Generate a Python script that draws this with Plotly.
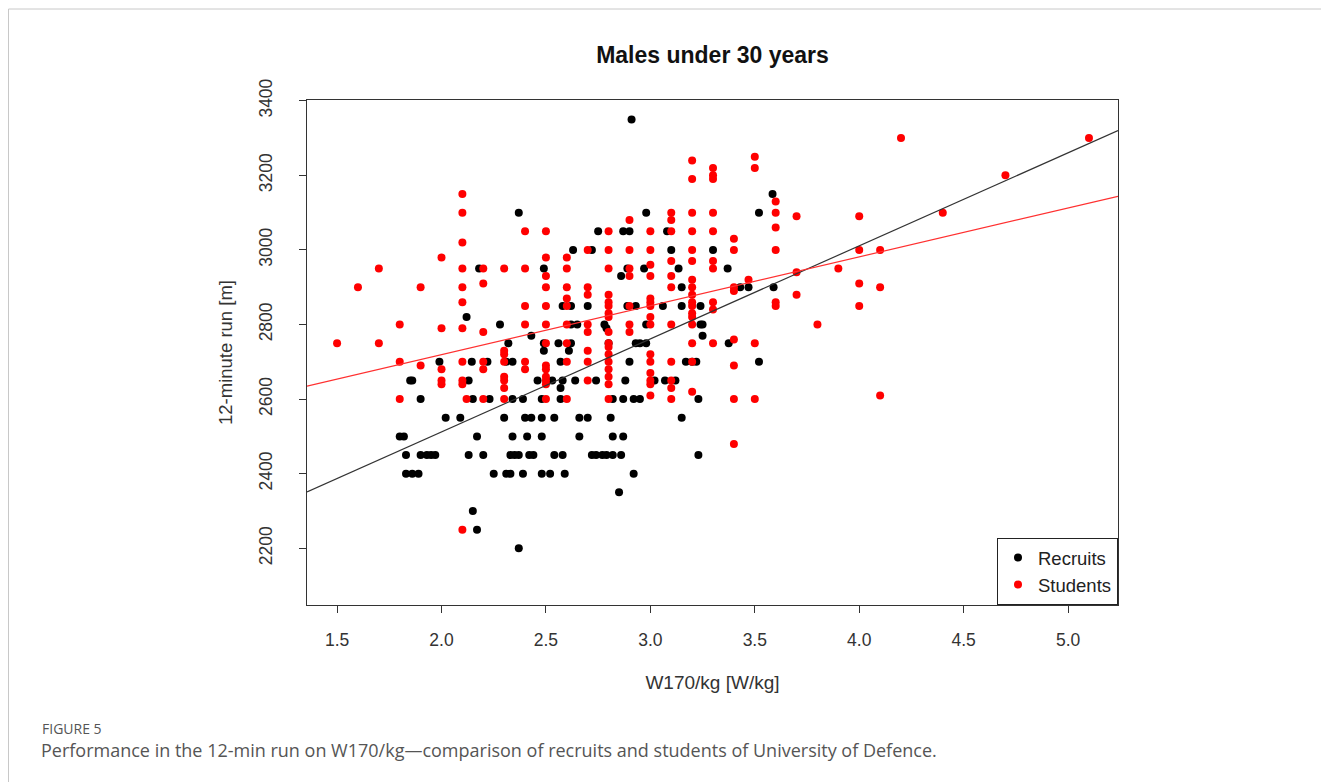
import plotly.graph_objects as go

# ---------------- data ----------------
recruits_x = [2.91, 2.37, 3.585, 3.52, 2.98,
              2.75, 2.87, 2.90, 3.08,
              2.63, 2.72, 3.10, 3.30,
              2.18, 2.49, 2.89, 2.97, 3.135, 3.37,
              2.86,
              3.15, 3.43, 3.47, 3.59,
              2.58, 2.62, 2.70, 2.89, 2.93, 3.06, 3.15, 3.24,
              2.12,
              2.28, 2.62, 2.65, 2.78, 2.98, 3.24, 3.25,
              2.79,
              2.43, 3.25,
              2.32, 2.49, 2.56, 2.62, 2.80, 2.93, 2.95, 2.98, 3.375,
              2.49, 2.61,
              1.99, 2.145, 2.22, 2.31, 2.34, 2.57, 2.90, 3.17, 3.20, 3.22, 3.52,
              1.85, 1.86, 2.13, 2.46, 2.53, 2.58, 2.64, 2.74, 2.88, 3.02, 3.07, 3.12,
              2.57,
              1.90, 2.15, 2.23, 2.34, 2.39, 2.48, 2.57, 2.82, 2.87, 2.92, 2.95, 3.23,
              2.02, 2.09, 2.30, 2.40, 2.43, 2.48, 2.54, 2.66, 2.70, 2.81, 3.15,
              1.80, 1.82, 2.17, 2.34, 2.41, 2.48, 2.66, 2.82, 2.87,
              1.83, 1.90, 1.93, 1.95, 1.97, 2.13, 2.20, 2.33, 2.35, 2.37, 2.42, 2.44,
              2.54, 2.58, 2.72, 2.74, 2.77, 2.79, 2.82, 2.86, 3.23,
              1.83, 1.86, 1.89, 2.25, 2.31, 2.33, 2.39, 2.48, 2.52, 2.59, 2.92,
              2.85, 2.15, 2.17, 2.37]
recruits_y = [3350, 3100, 3150, 3100, 3100,
              3050, 3050, 3050, 3050,
              3000, 3000, 3000, 3000,
              2950, 2950, 2950, 2950, 2950, 2950,
              2930,
              2900, 2900, 2900, 2900,
              2850, 2850, 2850, 2850, 2850, 2850, 2850, 2850,
              2820,
              2800, 2800, 2800, 2800, 2800, 2800, 2800,
              2790,
              2770, 2770,
              2750, 2750, 2750, 2750, 2750, 2750, 2750, 2750, 2750,
              2730, 2730,
              2700, 2700, 2700, 2700, 2700, 2700, 2700, 2700, 2700, 2700, 2700,
              2650, 2650, 2650, 2650, 2650, 2650, 2650, 2650, 2650, 2650, 2650, 2650,
              2630,
              2600, 2600, 2600, 2600, 2600, 2600, 2600, 2600, 2600, 2600, 2600, 2600,
              2550, 2550, 2550, 2550, 2550, 2550, 2550, 2550, 2550, 2550, 2550,
              2500, 2500, 2500, 2500, 2500, 2500, 2500, 2500, 2500,
              2450, 2450, 2450, 2450, 2450, 2450, 2450, 2450, 2450, 2450, 2450, 2450,
              2450, 2450, 2450, 2450, 2450, 2450, 2450, 2450, 2450,
              2400, 2400, 2400, 2400, 2400, 2400, 2400, 2400, 2400, 2400, 2400,
              2350, 2300, 2250, 2200]

students_x = [2.1, 2.1, 2.1, 2.0, 1.7, 2.1, 1.6, 1.9, 2.1, 2.1, 1.8, 2.0, 2.1,
              1.5, 1.7, 1.8, 1.9, 2.1, 2.0, 2.0, 2.0, 2.1, 2.1, 1.8, 2.12, 2.1,
              2.9, 2.4, 2.5, 2.8, 2.5, 2.6, 2.7, 2.8, 2.9, 2.2, 2.3, 2.4, 2.5, 2.6, 2.8, 2.9, 2.9,
              3.2, 3.2, 3.3, 3.3, 3.3, 3.5, 3.5, 3.6, 3.1, 3.1, 3.2, 3.3, 3.6, 3.7,
              3.0, 3.1, 3.2, 3.3, 3.6, 3.4, 3.4, 3.6, 3.0, 3.2, 3.0, 3.1, 3.2, 3.3, 3.3,
              3.0, 3.1, 3.2,
              2.5, 2.5, 2.5, 2.5, 2.5, 2.5, 2.5, 2.5, 2.5, 2.5,
              2.6, 2.6, 2.6, 2.6, 2.6, 2.6, 2.6,
              2.7, 2.7, 2.7, 2.7, 2.7, 2.7, 2.7,
              2.8, 2.8, 2.8, 2.8, 2.8, 2.8, 2.8, 2.8, 2.8, 2.8, 2.8, 2.8, 2.8, 2.8,
              2.9, 2.9, 2.9,
              2.4, 2.4, 2.4, 2.4,
              2.3, 2.3, 2.3, 2.3, 2.3, 2.3, 2.3,
              2.2, 2.2, 2.2, 2.2, 2.2,
              3.1, 3.2, 3.2, 3.4, 3.4, 3.47, 3.6, 3.6, 3.7, 3.0, 3.0, 3.0,
              3.2, 3.2, 3.2, 3.2, 3.2, 3.3, 3.3, 3.0, 3.0, 3.1,
              3.2, 3.3, 3.4, 3.5, 3.0, 3.0, 3.1, 3.2, 3.4,
              3.0, 3.0, 3.0, 3.0, 3.1, 3.1, 3.1, 3.2, 3.4, 3.5,
              3.4,
              4.2, 5.1, 4.7, 4.4, 4.0, 4.0, 4.1, 3.9, 4.0, 4.1, 4.0, 3.8, 4.1, 3.7]
students_y = [3150, 3100, 3020, 2980, 2950, 2950, 2900, 2900, 2900, 2860, 2800, 2790, 2790,
              2750, 2750, 2700, 2690, 2700, 2680, 2650, 2640, 2650, 2640, 2600, 2600, 2250,
              3080, 3050, 3050, 3050, 2980, 2980, 3000, 3000, 3000, 2950, 2950, 2950, 2930, 2950, 2950, 2950, 2930,
              3240, 3190, 3220, 3200, 3190, 3250, 3220, 3130, 3100, 3080, 3100, 3100, 3100, 3090,
              3050, 3050, 3050, 3050, 3060, 3030, 3000, 3000, 3000, 3000, 2960, 2970, 2970, 2970, 2950,
              2930, 2930, 2920,
              2900, 2850, 2800, 2750, 2690, 2680, 2660, 2650, 2640, 2600,
              2900, 2870, 2850, 2800, 2750, 2700, 2600,
              2900, 2880, 2800, 2780, 2730, 2700, 2650,
              2880, 2860, 2850, 2830, 2820, 2780, 2750, 2740, 2720, 2700, 2680, 2660, 2640, 2600,
              2850, 2800, 2780,
              2850, 2800, 2700, 2680,
              2730, 2720, 2700, 2660, 2650, 2630, 2600,
              2910, 2780, 2700, 2680, 2600,
              2900, 2900, 2880, 2900, 2890, 2920, 2860, 2850, 2880, 2870, 2860, 2850,
              2860, 2850, 2830, 2820, 2800, 2860, 2840, 2820, 2800, 2800,
              2750, 2750, 2760, 2750, 2720, 2700, 2700, 2700, 2690,
              2670, 2650, 2640, 2610, 2650, 2630, 2600, 2620, 2600, 2600,
              2480,
              3300, 3300, 3200, 3100, 3090, 3000, 3000, 2950, 2910, 2900, 2850, 2800, 2610, 2940]

series_names = ["Recruits", "Students"]
series_colors = ["#000000", "#ff0000"]
# fitted regression lines (intercept, slope)
fit_recruits = (2013.0, 249.5)
fit_students = (2457.0, 131.1)

x_ticks = [1.5, 2.0, 2.5, 3.0, 3.5, 4.0, 4.5, 5.0]
y_ticks = [2200, 2400, 2600, 2800, 3000, 3200, 3400]

# ---------------- layout geometry (page offset of 8 px from body margin) ----------------
OFF = 8
W, H = 1329 - OFF, 782 - OFF
L, R, T, B = 307 - OFF, 1118 - OFF, 100 - OFF, 605 - OFF
x_range = [1.356, 5.239]
y_range = [2048, 3402]


def px(xp):
    """page pixel x -> paper coordinate"""
    return (xp - OFF - L) / (R - L)


def py(yp):
    """page pixel y -> paper coordinate"""
    return (B - (yp - OFF)) / (B - T)


fig = go.Figure()

for name, color, xs, ys in [(series_names[0], series_colors[0], recruits_x, recruits_y),
                            (series_names[1], series_colors[1], students_x, students_y)]:
    fig.add_trace(go.Scatter(x=xs, y=ys, mode="markers", name=name,
                             marker=dict(color=color, size=8, line=dict(width=0))))

for fit, color in [(fit_recruits, "#333333"), (fit_students, "#ff3030")]:
    a, b = fit
    xs = [x_range[0], x_range[1]]
    fig.add_trace(go.Scatter(x=xs, y=[a + b * v for v in xs], mode="lines",
                             line=dict(color=color, width=1.2), showlegend=False,
                             hoverinfo="skip"))

FONT = "Liberation Sans, Arial"
axis_common = dict(showgrid=False, zeroline=False, showline=True, linecolor="#333333",
                   linewidth=1, mirror=True, ticks="outside", ticklen=7, tickwidth=1,
                   tickcolor="#333333",
                   tickfont=dict(family=FONT, size=17.5, color="#333333"))

fig.update_layout(
    width=W, height=H,
    margin=dict(l=L, r=W - R, t=T, b=H - B, autoexpand=False),
    paper_bgcolor="white", plot_bgcolor="white",
    title=dict(text="<b>Males under 30 years</b>", x=px(712.5), xref="paper",
               xanchor="center", y=1 - (55 - OFF) / H, yref="container", yanchor="middle",
               font=dict(family=FONT, size=23, color="#111111")),
    xaxis=dict(range=x_range, tickvals=x_ticks, ticktext=[f"{v:.1f}" for v in x_ticks],
               ticklabelstandoff=12,
               title=dict(text="W170/kg [W/kg]", standoff=26,
                          font=dict(family=FONT, size=19, color="#333333")),
               **axis_common),
    yaxis=dict(range=y_range, tickvals=y_ticks, ticktext=[str(v) for v in y_ticks],
               tickangle=-90, ticklabelstandoff=20,
               title=dict(text="12-minute run [m]", standoff=18,
                          font=dict(family=FONT, size=18.5, color="#333333")),
               **axis_common),
    legend=dict(x=1, y=0, xanchor="right", yanchor="bottom", bgcolor="white",
                bordercolor="#222222", borderwidth=1,
                font=dict(family=FONT, size=18.5, color="#222222"),
                itemwidth=30, tracegroupgap=0),
    showlegend=True,
)

# card border of the figure page
fig.add_shape(type="rect", xref="paper", yref="paper",
              x0=px(8.5), x1=px(1400), y0=py(900), y1=py(9),
              line=dict(color="#c8c8c8", width=1), fillcolor="rgba(0,0,0,0)", layer="below")

fig.add_annotation(text="FIGURE 5", xref="paper", yref="paper", x=px(40), y=py(728),
                   xanchor="left", yanchor="middle", showarrow=False,
                   font=dict(family="Open Sans, Noto Sans", size=14, color="#555555"))
fig.add_annotation(text="Performance in the 12-min run on W170/kg\u2014comparison of recruits and students of University of Defence.",
                   xref="paper", yref="paper", x=px(39), y=py(750),
                   xanchor="left", yanchor="middle", showarrow=False,
                   font=dict(family="Open Sans, Noto Sans", size=18, color="#555555"))

fig.write_html("out.html")
